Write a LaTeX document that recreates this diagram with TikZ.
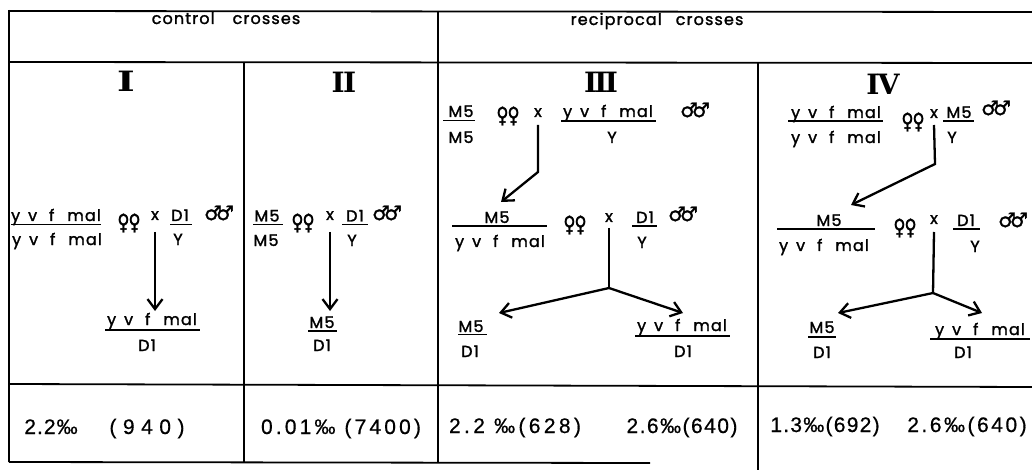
\documentclass[tikz,border=0pt]{standalone}
\usepackage{fontspec}
\usetikzlibrary{arrows.meta}
\newfontfamily\futf{Poppins}[FakeBold=1.6,LetterSpace=7]
\newfontfamily\symf{DejaVu Sans}[FakeBold=1.5]
\newfontfamily\numf{Liberation Sans}[FakeBold=0.6]
\newfontfamily\romf{DejaVu Serif}
\newcommand\yvfm{y\hspace{8pt}v\hspace{12pt}f\hspace{13pt}mal}
\newcommand\ffem{\scalebox{0.75}[1]{♀}\kern-1pt\scalebox{0.75}[1]{♀}}
\newcommand\mmal{♂\kern-6pt♂}
\tikzset{
 lab/.style={font=\futf\fontsize{16}{18}\selectfont, inner sep=0pt, anchor=base},
 sx/.style={font=\symf\fontsize{22}{24}\selectfont, inner sep=0pt},
 sy/.style={font=\symf\fontsize{20}{24}\selectfont, inner sep=0pt},
 nm/.style={font=\numf\fontsize{21}{24}\selectfont\addfontfeature{LetterSpace=#1}, inner sep=0pt, anchor=base},
 rom/.style={font=\romf\bfseries\fontsize{28}{30}\selectfont, inner sep=0pt, anchor=base},
 frame/.style={line width=1.8pt},
 bar/.style={line width=1.8pt},
 arr/.style={line width=2.3pt, -{Straight Barb[length=10pt,width=15pt,line width=2.3pt]}},
}
\begin{document}
\begin{tikzpicture}[x=1pt,y=-1pt]
\useasboundingbox (0,0) rectangle (1032,470);
% frame
\draw[frame] (9,10) -- (9,462);
\draw[frame] (9,11) -- (1032,12);
\draw[frame] (9,62) -- (1032,63);
\draw[frame] (9,384) -- (1032,387);
\draw[frame] (9,462) -- (650,463);
\draw[frame] (438,11) -- (438,463);
\draw[frame] (244,62) -- (244,462);
\draw[frame] (758,63) -- (758,470);
% headers
\node[lab] (hc) at (226,24) {control\hspace{18pt}crosses};
\node[lab] (hr) at (657,25) {reciprocal\hspace{14pt}crosses};
\node[rom] (r1) at (126,92) {\scalebox{1.35}[1]{I}};
\node[rom] (r2) at (344,93) {\addfontfeature{LetterSpace=-6}II};
\node[rom] (r3) at (601,93) {\addfontfeature{LetterSpace=-10}III};
\node[rom] (r4) at (883,95) {\addfontfeature{LetterSpace=-6}IV};
% ---- column I
\node[lab] (n1) at (56,221) {\yvfm};
\draw[bar] (11,224.5) -- (101,224.5);
\node[lab] (d1) at (57,245) {\yvfm};
\node[sx] (f1) at (129,223) {\ffem};
\node[lab] (x1) at (155,220) {x};
\node[lab] (p1) at (180,221) {D1};
\draw[bar] (170,224.5) -- (192,224.5);
\node[lab] (q1) at (178,245) {Y};
\node[sy] (g1) at (219,213) {\mmal};
\coordinate (t1) at (155,311);
\draw[arr] ([yshift=-12pt]x1.base) -- (t1);
\node[lab] (o1) at (152,325) {\yvfm};
\draw[bar] (105,330) -- (200,330);
\node[lab] (u1) at (147,351) {D1};
% ---- column II
\node[lab] (n2) at (267,221.5) {M5};
\draw[bar] (253,224.5) -- (283,224.5);
\node[lab] (d2) at (266,246) {M5};
\node[sx] (f2) at (303,223) {\ffem};
\node[lab] (x2) at (330,220) {x};
\node[lab] (p2) at (355,221.5) {D1};
\draw[bar] (342,224.5) -- (368,224.5);
\node[lab] (q2) at (352,246) {Y};
\node[sy] (g2) at (387,213) {\mmal};
\coordinate (t2) at (330,311);
\draw[arr] ([yshift=-12pt]x2.base) -- (t2);
\node[lab] (o2) at (322,328) {M5};
\draw[bar] (308,331) -- (337,331);
\node[lab] (u2) at (322,351) {D1};
% ---- column III
\node[lab] (n3) at (461,117) {M5};
\draw[bar] (443,120.5) -- (475,120.5);
\node[lab] (d3) at (461,143) {M5};
\node[sx] (f3) at (508,116) {\ffem};
\node[lab] (x3) at (538,117) {x};
\node[lab] (p3) at (608,117) {\yvfm};
\draw[bar] (561,121) -- (656,121);
\node[lab] (q3) at (612,143) {Y};
\node[sy] (g3) at (695,110) {\mmal};
\coordinate (b3) at (538,172);
\coordinate (t3) at (501,202);
\draw[arr] ([yshift=-8pt]x3.base) -- (b3) -- (t3);
\node[lab] (n3b) at (497,223) {M5};
\draw[bar] (452,226) -- (547,226);
\node[lab] (d3b) at (500,247) {\yvfm};
\node[sx] (f3b) at (575,225) {\ffem};
\node[lab] (x3b) at (609,222) {x};
\node[lab] (p3b) at (645,223) {D1};
\draw[bar] (632,226) -- (657,226);
\node[lab] (q3b) at (642,248) {Y};
\node[sy] (g3b) at (683,214) {\mmal};
\coordinate (j3) at (609,288);
\coordinate (tl3) at (499,313);
\coordinate (tr3) at (683,313);
\draw[line width=2.3pt] ([yshift=-6pt]x3b.base) -- (j3);
\draw[arr] (j3) -- (tl3);
\draw[arr] (j3) -- (tr3);
\node[lab] (o3) at (471,332) {M5};
\draw[bar] (458,334.5) -- (487,334.5);
\node[lab] (u3) at (470,357) {D1};
\node[lab] (o3r) at (682,331) {\yvfm};
\draw[bar] (635,336) -- (730,336);
\node[lab] (u3r) at (683,357) {D1};
% ---- column IV
\node[lab] (n4) at (836,118) {\yvfm};
\draw[bar] (788,121) -- (883,121);
\node[lab] (d4) at (836,143) {\yvfm};
\node[sx] (f4) at (913,122) {\ffem};
\node[lab] (x4) at (934,118) {x};
\node[lab] (p4) at (959,118) {M5};
\draw[bar] (943,121) -- (974,121);
\node[lab] (q4) at (952,143) {Y};
\node[sy] (g4) at (996,108) {\mmal};
\coordinate (b4) at (935,164);
\coordinate (t4) at (851,205);
\draw[arr] ([yshift=-7pt]x4.base) -- (b4) -- (t4);
\node[lab] (n4b) at (829,226) {M5};
\draw[bar] (777,229) -- (875,229);
\node[lab] (d4b) at (824,251) {\yvfm};
\node[sx] (f4b) at (905,228) {\ffem};
\node[lab] (x4b) at (934,224) {x};
\node[lab] (p4b) at (966,226) {D1};
\draw[bar] (953,229) -- (980,229);
\node[lab] (q4b) at (975,252) {Y};
\node[sy] (g4b) at (1013,220) {\mmal};
\coordinate (j4) at (933,293);
\coordinate (tl4) at (838,313);
\coordinate (tr4) at (982,313);
\draw[line width=2.3pt] ([yshift=-8pt]x4b.base) -- (j4);
\draw[arr] (j4) -- (tl4);
\draw[arr] (j4) -- (tr4);
\node[lab] (o4) at (822,333) {M5};
\draw[bar] (808,337) -- (836,337);
\node[lab] (u4) at (822,358) {D1};
\node[lab] (o4r) at (980,335) {\yvfm};
\draw[bar] (930,339) -- (1030,339);
\node[lab] (u4r) at (963,358) {D1};
% ---- numbers
\node[nm=5] (v1) at (51,434) {2.2‰};
\node[nm=31] (v2) at (147,434) {(940)};
\node[nm=15] (v3) at (341,434) {0.01‰ (7400)};
\node[nm=16] (v4) at (515,433) {2.2 ‰(628)};
\node[nm=7] (v5) at (682,433) {2.6‰(640)};
\node[nm=6] (v6) at (825,432) {1.3‰(692)};
\node[nm=12] (v7) at (967,432) {2.6‰(640)};
\end{tikzpicture}
\end{document}
